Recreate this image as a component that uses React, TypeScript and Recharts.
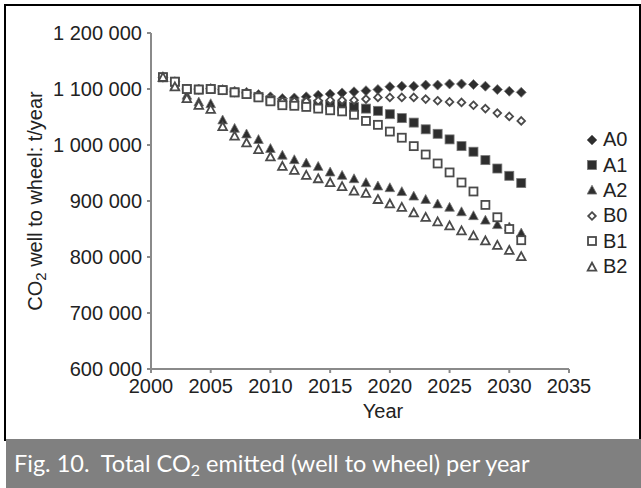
import React from "react";
import { ScatterChart, Scatter, XAxis, YAxis, Label } from "recharts";

const years = [
  2001, 2002, 2003, 2004, 2005, 2006, 2007, 2008, 2009, 2010, 2011, 2012, 2013, 2014, 2015, 2016,
  2017, 2018, 2019, 2020, 2021, 2022, 2023, 2024, 2025, 2026, 2027, 2028, 2029, 2030, 2031,
];

const a0 = [
  1121000, 1113000, 1100000, 1100000, 1101000, 1099000, 1096000, 1094000, 1090000, 1086000, 1083000,
  1084000, 1086000, 1089000, 1091000, 1093000, 1095000, 1097000, 1099000, 1104000, 1105000, 1105000,
  1107000, 1107000, 1109000, 1109000, 1108000, 1105000, 1099000, 1096000, 1094000,
];
const a1 = [
  1121000, 1113000, 1100000, 1099000, 1100000, 1098000, 1094000, 1091000, 1086000, 1080000, 1075000,
  1074000, 1073000, 1072000, 1071000, 1070000, 1068000, 1065000, 1061000, 1055000, 1048000, 1040000,
  1028000, 1020000, 1010000, 998000, 988000, 973000, 958000, 945000, 932000,
];
const a2 = [
  1121000, 1106000, 1089000, 1077000, 1074000, 1045000, 1030000, 1020000, 1010000, 994000, 982000,
  974000, 968000, 962000, 952000, 946000, 940000, 933000, 927000, 924000, 917000, 909000, 903000,
  895000, 889000, 881000, 874000, 866000, 858000, 854000, 843000,
];
const b0 = [
  1121000, 1113000, 1100000, 1099000, 1100000, 1098000, 1094000, 1092000, 1087000, 1082000, 1078000,
  1078000, 1078000, 1079000, 1080000, 1080000, 1080000, 1082000, 1085000, 1085000, 1085000, 1085000,
  1082000, 1079000, 1077000, 1076000, 1071000, 1065000, 1057000, 1051000, 1043000,
];
const b1 = [
  1121000, 1113000, 1100000, 1099000, 1100000, 1098000, 1094000, 1091000, 1085000, 1078000, 1071000,
  1070000, 1068000, 1065000, 1062000, 1060000, 1054000, 1043000, 1036000, 1024000, 1013000, 998000,
  983000, 967000, 951000, 933000, 917000, 893000, 871000, 850000, 830000,
];
const b2 = [
  1121000, 1104000, 1083000, 1071000, 1064000, 1033000, 1016000, 1004000, 992000, 979000, 962000,
  955000, 946000, 940000, 933000, 926000, 918000, 914000, 903000, 895000, 889000, 879000, 871000,
  863000, 856000, 847000, 838000, 829000, 821000, 812000, 801000,
];

const xTicks = [2000, 2005, 2010, 2015, 2020, 2025, 2030, 2035];
const yTicks = [600000, 700000, 800000, 900000, 1000000, 1100000, 1200000];

type Kind = "diamond" | "square" | "triangle";

const series: { name: string; values: number[]; kind: Kind; filled: boolean }[] = [
  { name: "A0", values: a0, kind: "diamond", filled: true },
  { name: "A1", values: a1, kind: "square", filled: true },
  { name: "A2", values: a2, kind: "triangle", filled: true },
  { name: "B0", values: b0, kind: "diamond", filled: false },
  { name: "B1", values: b1, kind: "square", filled: false },
  { name: "B2", values: b2, kind: "triangle", filled: false },
];

const DARK = "#2e2e2e";
const OUTLINE = "#4a4a4a";

const Marker = ({ cx, cy, kind, filled }: { cx: number; cy: number; kind: Kind; filled: boolean }) => {
  const fill = filled ? DARK : "#fff";
  const stroke = filled ? "#777" : OUTLINE;
  const sw = filled ? 0.8 : 1.8;
  if (cx == null || cy == null) return null;
  if (kind === "square") {
    const h = filled ? 4.5 : 4;
    return <rect x={cx - h} y={cy - h} width={h * 2} height={h * 2} fill={fill} stroke={stroke} strokeWidth={sw} />;
  }
  if (kind === "diamond") {
    const h = filled ? 5 : 3.8;
    return (
      <polygon
        points={`${cx},${cy - h} ${cx + h},${cy} ${cx},${cy + h} ${cx - h},${cy}`}
        fill={fill}
        stroke={stroke}
        strokeWidth={sw}
      />
    );
  }
  const h = filled ? 4.8 : 4.3;
  return (
    <polygon
      points={`${cx},${cy - h} ${cx + h},${cy + h * 0.85} ${cx - h},${cy + h * 0.85}`}
      fill={fill}
      stroke={stroke}
      strokeWidth={sw}
    />
  );
};

const fmt = (v: number) => v.toLocaleString("en-US").replace(/,/g, " ");

const YTitle = (props: any) => {
  const vb = props.viewBox || {};
  const x = 35;
  const y = vb.y + vb.height / 2;
  return (
    <text
      x={x}
      y={y}
      transform={`rotate(-90, ${x}, ${y})`}
      textAnchor="middle"
      dominantBaseline="central"
      fontSize={20}
      fill="#222"
    >
      CO
      <tspan dy={5} fontSize={15}>
        2
      </tspan>
      <tspan dy={-5}> well to wheel: t/year</tspan>
    </text>
  );
};

const XTitle = (props: any) => {
  const vb = props.viewBox || {};
  return (
    <text x={vb.x + vb.width / 2 + 23} y={418} textAnchor="middle" fontSize={20} fill="#222">
      Year
    </text>
  );
};

const App = () => {
  return (
    <div
      style={{
        position: "fixed",
        left: 0,
        top: 0,
        width: 641,
        height: 488,
        background: "#fff",
        fontFamily: "'Liberation Sans', Arial, sans-serif",
        overflow: "hidden",
      }}
    >
      <div
        style={{
          position: "absolute",
          left: 4,
          top: 4,
          width: 633,
          height: 435,
          borderTop: "2px solid #000",
          borderLeft: "2px solid #000",
          borderRight: "2px solid #000",
        }}
      />
      <div style={{ position: "absolute", left: 0, top: 0 }}>
        <ScatterChart width={641} height={440} margin={{ top: 33, right: 72, bottom: 0, left: 0 }}>
          <XAxis
            type="number"
            dataKey="year"
            domain={[2000, 2035]}
            ticks={xTicks}
            height={71}
            tickSize={4}
            tickMargin={6}
            stroke="#8a8a8a"
            strokeWidth={2}
            tick={{ fill: "#222", fontSize: 20 }}
            interval={0}
            allowDataOverflow
          >
            <Label content={<XTitle />} />
          </XAxis>
          <YAxis
            type="number"
            dataKey="value"
            domain={[600000, 1200000]}
            ticks={yTicks}
            width={151}
            tickSize={4}
            tickMargin={5}
            stroke="#8a8a8a"
            strokeWidth={2}
            tick={{ fill: "#222", fontSize: 20 }}
            tickFormatter={fmt}
            interval={0}
            allowDataOverflow
          >
            <Label content={<YTitle />} />
          </YAxis>
          {series.map((s) => (
            <Scatter
              key={s.name}
              name={s.name}
              data={years.map((yr, i) => ({ year: yr, value: s.values[i] }))}
              isAnimationActive={false}
              shape={(p: any) => <Marker cx={p.cx} cy={p.cy} kind={s.kind} filled={s.filled} />}
            />
          ))}
        </ScatterChart>
      </div>
      <div style={{ position: "absolute", left: 585, top: 127 }}>
        {series.map((s) => (
          <div key={s.name} style={{ height: 25.4, display: "flex", alignItems: "center" }}>
            <svg width={14} height={14} style={{ marginRight: 4 }}>
              <Marker cx={7} cy={7} kind={s.kind} filled={s.filled} />
            </svg>
            <span style={{ fontSize: 20, color: "#222" }}>{s.name}</span>
          </div>
        ))}
      </div>
      <div
        style={{
          position: "absolute",
          left: 6,
          top: 439,
          width: 635,
          height: 49,
          background: "#808080",
          color: "#fff",
          fontFamily: "Lato, 'Open Sans', sans-serif",
          fontSize: 23.5,
          lineHeight: "49px",
          paddingLeft: 8,
          boxSizing: "border-box",
          whiteSpace: "nowrap",
        }}
      >
        Fig. 10.&nbsp; Total CO
        <sub style={{ fontSize: 16, verticalAlign: "-4px" }}>2</sub> emitted (well to wheel) per year
      </div>
    </div>
  );
};

export default App;
